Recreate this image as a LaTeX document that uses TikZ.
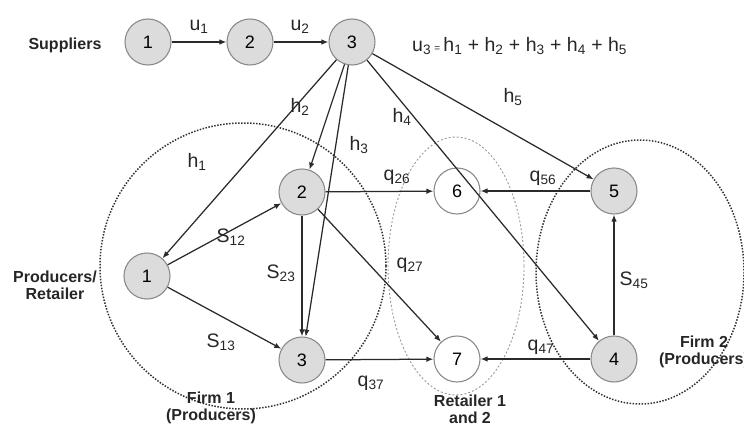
\documentclass[tikz,border=0pt]{standalone}
\usepackage{fontspec}
\setmainfont{Liberation Sans}
\usetikzlibrary{arrows.meta}
\definecolor{nodefill}{HTML}{DCDCDC}
\definecolor{nodeline}{HTML}{8C8C8C}
\definecolor{edgecol}{HTML}{2A2A2A}
\newcommand{\lb}[2]{#1\textsubscript{#2}}
\begin{document}
\begin{tikzpicture}[x=1pt,y=-1pt,
  gnode/.style={circle, draw=nodeline, fill=nodefill, line width=1.1pt, minimum size=46pt, inner sep=0pt, font=\fontsize{18}{18}\selectfont},
  wnode/.style={gnode, fill=white},
  flow/.style={draw=edgecol, line width=1.25pt, -{Latex[length=7pt,width=5.5pt]}},
  lab/.style={font=\fontsize{19.5}{19.5}\selectfont, inner sep=0pt, text=black!85},
  grp/.style={font=\bfseries\fontsize{16}{17}\selectfont, align=center, text=black!85, inner sep=0pt},
  firm/.style={draw=black!80, line width=1.5pt, dash pattern=on 1.5pt off 1.5pt},
  ret/.style={draw=black!40, line width=0.9pt, dash pattern=on 2pt off 2pt}]
\useasboundingbox (0,0) rectangle (744,428);
% groups
\draw[firm] (243,266) circle [radius=143];
\draw[ret] (456,266) ellipse [x radius=68, y radius=129];
\draw[firm] (640,272) ellipse [x radius=104, y radius=132];
% nodes
\node[gnode] (s1) at (148,42) {1};
\node[gnode] (s2) at (250,42) {2};
\node[gnode] (s3) at (352,42) {3};
\node[gnode] (p1) at (147,276) {1};
\node[gnode] (p2) at (302,192) {2};
\node[gnode] (p3) at (302,360) {3};
\node[wnode] (r6) at (457,191) {6};
\node[wnode] (r7) at (457,359) {7};
\node[gnode] (f5) at (614,191) {5};
\node[gnode] (f4) at (614,359) {4};
% group labels
\node[grp] (gs) at (65,45) {Suppliers};
\node[grp] (gp) at (55,285) {Producers/\\Retailer};
\node[grp] (gf1) at (211,408) {Firm 1\\(Producers)};
\node[grp] (gr) at (470,409) {Retailer 1\\and 2};
\node[grp] (gf2) at (704,352) {Firm 2\\(Producers)};
% edges
\draw[flow] (s1) -- (s2);
\draw[flow] (s2) -- (s3);
\draw[flow] (s3) -- (p1);
\draw[flow] (s3) -- (p2);
\draw[flow] (s3) -- (p3);
\draw[flow] (s3) -- (f4);
\draw[flow] (s3) -- (f5);
\draw[flow] (p1) -- (p2);
\draw[flow] (p1) -- (p3);
\draw[flow] (p2) -- (p3);
\draw[flow] (p2) -- (r6);
\draw[flow] (p2) -- (r7);
\draw[flow] (p3) -- (r7);
\draw[flow] (f5) -- (r6);
\draw[flow] (f4) -- (r7);
\draw[flow] (f4) -- (f5);
% labels
\node[lab] (lu1) at (199,27) {\lb{u}{1}};
\node[lab] (lu2) at (300,27) {\lb{u}{2}};
\node[lab, anchor=west] (lu3) at (412,46) {\lb{u}{3}\,{\fontsize{10}{10}\selectfont =}\,\lb{h}{1} + \lb{h}{2} + \lb{h}{3} + \lb{h}{4} + \lb{h}{5}};
\node[lab] (lh1) at (197,162) {\lb{h}{1}};
\node[lab] (lh2) at (300,107) {\lb{h}{2}};
\node[lab] (lh3) at (359,145) {\lb{h}{3}};
\node[lab] (lh4) at (402,117) {\lb{h}{4}};
\node[lab] (lh5) at (513,97) {\lb{h}{5}};
\node[lab] (ls12) at (231,237) {\lb{S}{12}};
\node[lab] (ls13) at (221,342) {\lb{S}{13}};
\node[lab] (ls23) at (281,273) {\lb{S}{23}};
\node[lab] (ls45) at (634,280) {\lb{S}{45}};
\node[lab] (lq26) at (397,177) {\lb{q}{26}};
\node[lab] (lq56) at (543,178) {\lb{q}{56}};
\node[lab] (lq27) at (410,265) {\lb{q}{27}};
\node[lab] (lq37) at (371,383) {\lb{q}{37}};
\node[lab] (lq47) at (541,347) {\lb{q}{47}};
\end{tikzpicture}
\end{document}
